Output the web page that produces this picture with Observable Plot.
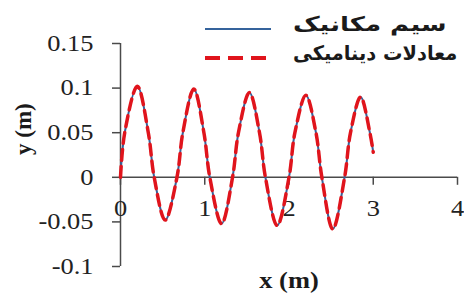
<!DOCTYPE html>
<html>
<head>
<meta charset="utf-8">
<script src="https://cdn.jsdelivr.net/npm/d3@7"></script>
<script src="https://cdn.jsdelivr.net/npm/@observablehq/plot@0.6"></script>
<style>
  body { margin: 0; background: #fff; }
  #wrap { position: relative; width: 464px; height: 300px; overflow: hidden; }
  #wrap svg text { font-family: "Liberation Serif", "Times New Roman", serif; }
  .leg { position: absolute; width: max-content; font-family: "DejaVu Sans", sans-serif; font-weight: bold; font-size: 20px; color: #1a1a1a; white-space: nowrap; line-height: 1; transform-origin: 0 50%; }
  .legline { position: absolute; }
</style>
</head>
<body>
<div id="wrap"></div>
<script>
// Data
const xs      = [0, 0.05, 0.2, 0.33, 0.4, 0.53, 0.67, 0.74, 0.87, 0.99, 1.06, 1.2, 1.33, 1.4, 1.53, 1.65, 1.72, 1.86, 2.0, 2.07, 2.2, 2.32, 2.39, 2.52, 2.66, 2.73, 2.85, 2.96, 3.0];
const ySim    = [0, 0.05, 0.102, 0.05, 0, -0.048, 0, 0.05, 0.099, 0.05, 0, -0.052, 0, 0.05, 0.095, 0.05, 0, -0.054, 0, 0.05, 0.092, 0.05, 0, -0.058, 0, 0.05, 0.09, 0.05, 0.028];
const yDyn    = [0, 0.05, 0.102, 0.05, 0, -0.048, 0, 0.05, 0.099, 0.05, 0, -0.052, 0, 0.05, 0.095, 0.05, 0, -0.054, 0, 0.05, 0.092, 0.05, 0, -0.058, 0, 0.05, 0.09, 0.05, 0.028];
const seriesNames = ["سیم مکانیک", "معادلات دینامیکی"];
const xTicks = [0, 1, 2, 3, 4];
const xTickLabels = ["0", "1", "2", "3", "4"];
const yTicks = [-0.1, -0.05, 0, 0.05, 0.1, 0.15];
const yTickLabels = ["-0.1", "-0.05", "0", "0.05", "0.1", "0.15"];
const xLabel = "x (m)";
const yLabel = "y (m)";

const simData = xs.map((x, i) => ({x, y: ySim[i]}));
const dynData = xs.map((x, i) => ({x, y: yDyn[i]}));

const blue = "#35639c";
const red = "#e0141c";
const axisColor = "#4a4a4a";
const serif = "Liberation Serif";

const chart = Plot.plot({
  width: 464,
  height: 300,
  marginLeft: 120,
  marginRight: 7,
  marginTop: 43,
  marginBottom: 34,
  style: {background: "white", color: "#222"},
  x: {domain: [0, 4], axis: null},
  y: {domain: [-0.1, 0.15], axis: null},
  marks: [
    Plot.axisY(yTicks, {label: null, tickSize: 8, tickPadding: 19, fontSize: 23, fontFamily: serif, stroke: axisColor, strokeWidth: 1.5, fill: "#222",
      tickFormat: d => yTickLabels[yTicks.indexOf(d)]}),
    Plot.ruleX([0], {stroke: axisColor, strokeWidth: 1.5}),
    Plot.ruleY([0], {stroke: axisColor, strokeWidth: 1.5}),
    Plot.ruleX(xTicks, {x: d => d, y1: 0, y2: 0, insetBottom: -8, stroke: axisColor, strokeWidth: 1.5}),
    Plot.text(xTicks, {x: d => d, y: 0, dy: 31, text: (d, i) => xTickLabels[i], fontSize: 23, fontFamily: serif, fill: "#222"}),
    Plot.line(simData, {x: "x", y: "y", stroke: blue, strokeWidth: 2, curve: "catmull-rom"}),
    Plot.line(dynData, {x: "x", y: "y", stroke: red, strokeWidth: 3.5, strokeDasharray: "11,6", curve: "catmull-rom"}),
    Plot.text([xLabel], {frameAnchor: "bottom", dy: 21, fontSize: 23, fontFamily: serif, fontWeight: "bold", fill: "#1a1a1a"}),
    Plot.text([yLabel], {frameAnchor: "left", dx: -97, rotate: -90, fontSize: 23, fontFamily: serif, fontWeight: "bold", fill: "#1a1a1a"})
  ]
});

// The reference's lettering is stretched horizontally; mimic that on the horizontal texts
d3.select(chart).selectAll("text").each(function () {
  const tr = this.getAttribute("transform") || "";
  if (!tr.includes("rotate")) this.setAttribute("transform", (tr + " scale(1.15,1)").trim());
});

const wrap = document.getElementById("wrap");
wrap.appendChild(chart);

// Legend
const legendStyles = [
  {color: blue, width: 2, dash: null, stretch: 1.3},
  {color: red, width: 4, dash: "15,8", stretch: 0.97}
];
const legTops = [29, 58];
seriesNames.forEach((name, i) => {
  const s = legendStyles[i];
  const svg = d3.create("svg").attr("class", "legline")
    .attr("width", 70).attr("height", 8)
    .style("left", "203px").style("top", (legTops[i] - 4) + "px");
  svg.append("line").attr("x1", 2).attr("x2", 68).attr("y1", 4).attr("y2", 4)
    .attr("stroke", s.color).attr("stroke-width", s.width)
    .attr("stroke-dasharray", s.dash);
  wrap.appendChild(svg.node());
  const t = document.createElement("div");
  t.className = "leg";
  t.dir = "rtl";
  t.textContent = name;
  t.style.left = "293px";
  t.style.top = (legTops[i] - 15) + "px";
  t.style.transform = `scaleX(${s.stretch})`;
  wrap.appendChild(t);
});
</script>
</body>
</html>
